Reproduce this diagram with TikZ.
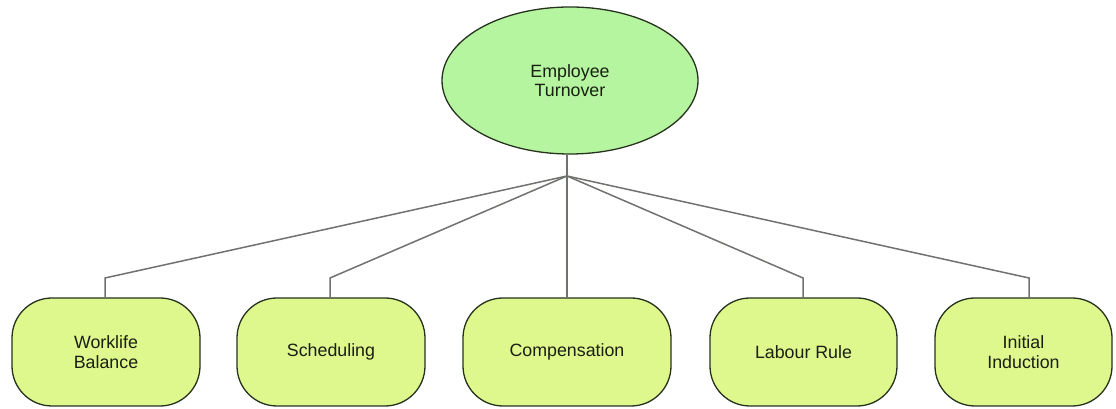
\documentclass[tikz,border=0pt]{standalone}
\usepackage{fontspec}
\setmainfont{Liberation Sans}
\usetikzlibrary{shapes.geometric}
\definecolor{rootfill}{RGB}{182,245,160}
\definecolor{leaffill}{RGB}{222,248,142}
\definecolor{edgeline}{RGB}{38,50,30}
\definecolor{linkgray}{RGB}{112,114,110}
\definecolor{labeltext}{RGB}{24,32,18}
\begin{document}
\begin{tikzpicture}[x=1pt,y=1pt,
  rootnode/.style={ellipse,draw=edgeline,line width=1.3pt,fill=rootfill,
    minimum width=256pt,minimum height=147pt,inner sep=0pt,
    align=center,text=labeltext,font=\fontsize{17.8}{19.5}\selectfont},
  leafnode/.style={rectangle,rounded corners=40pt,draw=edgeline,line width=1.3pt,
    fill=leaffill,minimum height=108pt,inner sep=0pt,
    align=center,text=labeltext,font=\fontsize{17.8}{19.5}\selectfont},
  link/.style={draw=linkgray,line width=1.5pt}]
  \useasboundingbox (0,0) rectangle (1116,409);

  % root
  \node[rootnode] (root) at (570,328.5) {Employee\\Turnover};

  % junction below the root and elbows above each leaf
  \coordinate (hub) at (567,233);
  \coordinate (e1) at (105,131);
  \coordinate (e2) at (330,131);
  \coordinate (e4) at (803,131);
  \coordinate (e5) at (1029,131);

  % leaves
  \node[leafnode,minimum width=188pt] (wl) at (106,57) {Worklife\\Balance};
  \node[leafnode,minimum width=188pt] (sc) at (331,57) {Scheduling};
  \node[leafnode,minimum width=208pt] (cp) at (567,57) {Compensation};
  \node[leafnode,minimum width=187pt] (lr) at (803.5,57) {Labour Rule};
  \node[leafnode,minimum width=177pt] (ii) at (1023.5,57) {Initial\\Induction};

  % connectors
  \draw[link] (root.south -| hub) -- (hub);
  \draw[link] (hub) -- (e1) -- (e1 |- wl.north);
  \draw[link] (hub) -- (e2) -- (e2 |- sc.north);
  \draw[link] (hub) -- (cp.north -| hub);
  \draw[link] (hub) -- (e4) -- (e4 |- lr.north);
  \draw[link] (hub) -- (e5) -- (e5 |- ii.north);
\end{tikzpicture}
\end{document}
